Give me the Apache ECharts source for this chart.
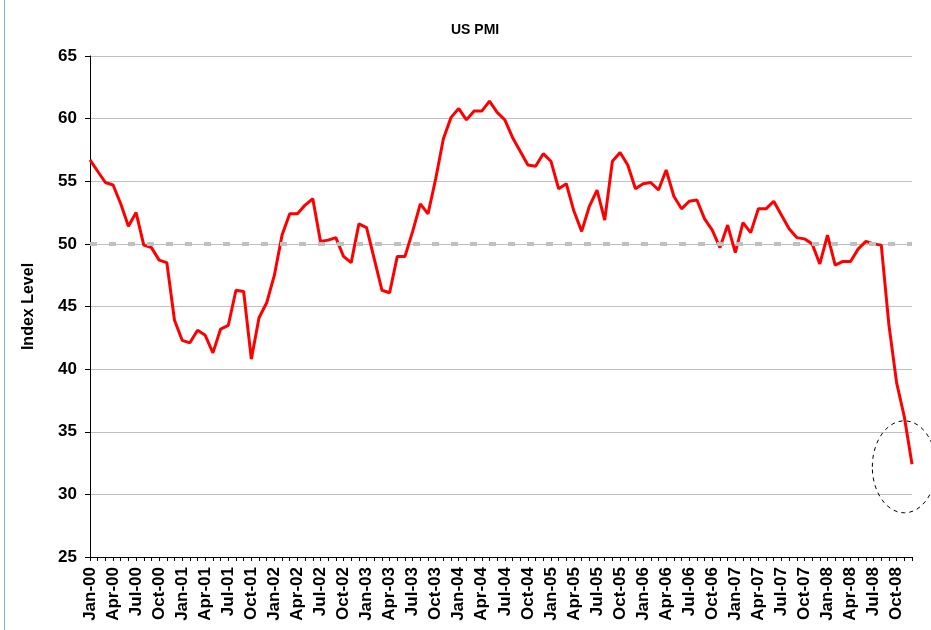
<!DOCTYPE html>
<html>
<head>
<meta charset="utf-8">
<title>US PMI</title>
<script src="https://cdn.jsdelivr.net/npm/echarts@6/dist/echarts.min.js"></script>
<style>
  html, body { margin: 0; padding: 0; background: #fff; }
  #chart { width: 931px; height: 630px; }
</style>
</head>
<body>
<div id="chart"></div>
<script>
// month names and years used to build the category labels
var monthNames = ['Jan', 'Feb', 'Mar', 'Apr', 'May', 'Jun', 'Jul', 'Aug', 'Sep', 'Oct', 'Nov', 'Dec']
var years = ['00', '01', '02', '03', '04', '05', '06', '07', '08']

// PMI index, one array per year (Jan..Dec)
var pmi2000 = [56.7, 55.8, 54.9, 54.7, 53.2, 51.4, 52.5, 49.9, 49.7, 48.7, 48.5, 43.9]
var pmi2001 = [42.3, 42.1, 43.1, 42.7, 41.3, 43.2, 43.5, 46.3, 46.2, 40.8, 44.1, 45.3]
var pmi2002 = [47.5, 50.7, 52.4, 52.4, 53.1, 53.6, 50.2, 50.3, 50.5, 49.0, 48.5, 51.6]
var pmi2003 = [51.3, 48.8, 46.3, 46.1, 49.0, 49.0, 51.0, 53.2, 52.4, 55.2, 58.4, 60.1]
var pmi2004 = [60.8, 59.9, 60.6, 60.6, 61.4, 60.5, 59.9, 58.5, 57.4, 56.3, 56.2, 57.2]
var pmi2005 = [56.6, 54.4, 54.8, 52.6, 51.0, 53.0, 54.3, 51.9, 56.6, 57.3, 56.3, 54.4]
var pmi2006 = [54.8, 54.9, 54.3, 55.9, 53.8, 52.8, 53.4, 53.5, 52.0, 51.1, 49.7, 51.5]
var pmi2007 = [49.3, 51.7, 50.9, 52.8, 52.8, 53.4, 52.3, 51.2, 50.5, 50.4, 50.0, 48.4]
var pmi2008 = [50.7, 48.3, 48.6, 48.6, 49.6, 50.2, 50.0, 49.9, 43.5, 38.9, 36.2, 32.4]

var yTicks = [25, 30, 35, 40, 45, 50, 55, 60, 65]
var threshold = 50

var categories = []
years.forEach(function (y) {
    monthNames.forEach(function (m) {
        categories.push(m + '-' + y)
    })
})
var pmi = [].concat(pmi2000, pmi2001, pmi2002, pmi2003, pmi2004,
    pmi2005, pmi2006, pmi2007, pmi2008)

var font = '"Liberation Sans", Arial, sans-serif'
var chart = echarts.init(document.getElementById('chart'))

chart.setOption({
    animation: false,
    backgroundColor: '#fff',
    title: {
        text: 'US PMI',
        left: 451,
        top: 23,
        padding: 0,
        textStyle: { fontFamily: font, fontSize: 14, fontWeight: 'bold', color: '#000' }
    },
    grid: { left: 90, right: 19, top: 56, bottom: 73 },
    xAxis: {
        type: 'category',
        boundaryGap: false,
        data: categories,
        axisLine: { lineStyle: { color: '#000', width: 1 } },
        axisTick: { interval: 0, length: 4, lineStyle: { color: '#000' } },
        axisLabel: {
            interval: 2,
            rotate: 90,
            margin: 10,
            fontFamily: font,
            fontSize: 17,
            fontWeight: 'bold',
            color: '#000'
        },
        splitLine: { show: false }
    },
    yAxis: {
        type: 'value',
        min: yTicks[0],
        max: yTicks[yTicks.length - 1],
        interval: 5,
        name: 'Index Level',
        nameLocation: 'middle',
        nameRotate: 90,
        nameGap: 53,
        nameTextStyle: { fontFamily: font, fontSize: 16, fontWeight: 'bold', color: '#000' },
        axisLine: { show: true, lineStyle: { color: '#000', width: 1 } },
        axisTick: { show: true, length: 5, lineStyle: { color: '#000' } },
        axisLabel: { margin: 13, fontFamily: font, fontSize: 17, fontWeight: 'bold', color: '#000' },
        splitLine: { lineStyle: { color: '#c0c0c0', width: 1 } }
    },
    series: [
        {
            name: 'US PMI',
            type: 'line',
            data: pmi,
            showSymbol: false,
            symbol: 'none',
            lineStyle: { color: '#ff0000', width: 3 },
            z: 3,
            markLine: {
                silent: true,
                symbol: 'none',
                label: { show: false },
                lineStyle: { color: '#c0c0c0', width: 4, type: [7, 12] },
                data: [{ yAxis: threshold }]
            }
        }
    ]
})

// dashed ellipse around the last readings + left frame line
var c = chart.convertToPixel({ xAxisIndex: 0, yAxisIndex: 0 }, ['Nov-08', 32.2])
chart.setOption({
    graphic: [
        {
            type: 'ellipse',
            shape: { cx: c[0], cy: c[1], rx: 32, ry: 46 },
            style: { fill: null, stroke: '#000', lineWidth: 1, lineDash: [4, 4] },
            z: 10
        },
        {
            type: 'line',
            shape: { x1: 4.5, y1: 0, x2: 4.5, y2: 630 },
            style: { stroke: '#8eaadb', lineWidth: 1 },
            z: 10
        }
    ]
})
</script>
</body>
</html>
